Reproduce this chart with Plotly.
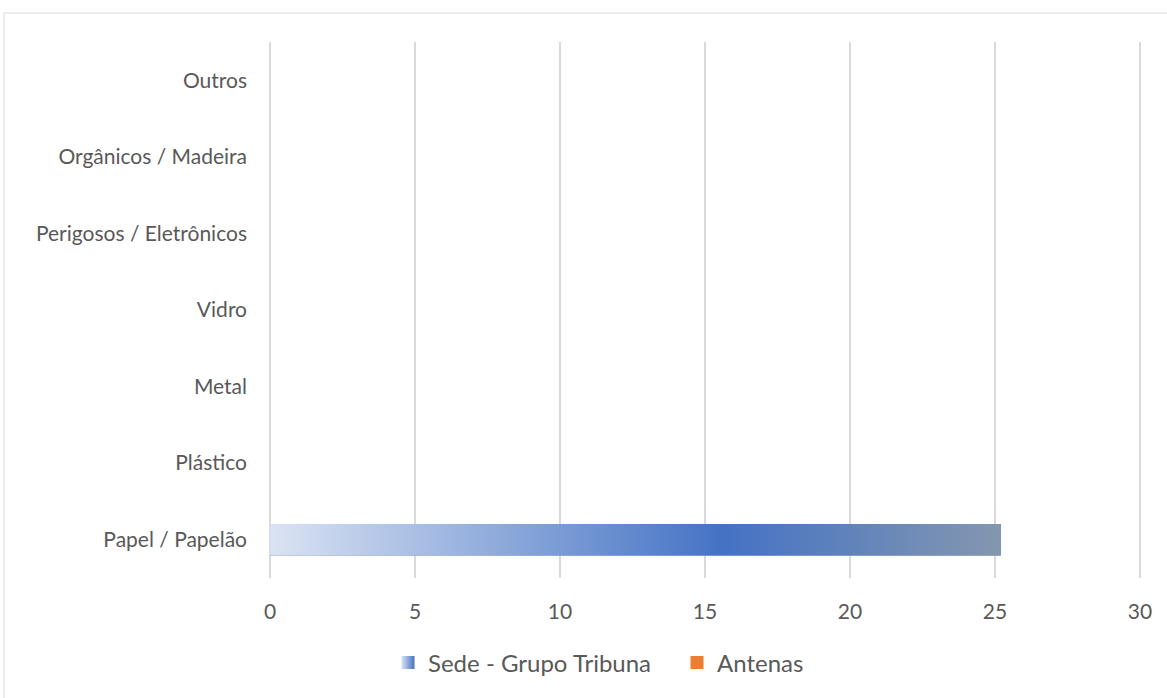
import plotly.graph_objects as go

# Waste categories (bottom to top) and quantities per site
categories = [
    "Papel / Papelão",
    "Plástico",
    "Metal",
    "Vidro",
    "Perigosos / Eletrônicos",
    "Orgânicos / Madeira",
    "Outros",
]
sede_values = [25.2, 0, 0, 0, 0, 0, 0]
antenas_values = [0, 0, 0, 0, 0, 0, 0]
x_ticks = [0, 5, 10, 15, 20, 25, 30]

series_names = ["Sede - Grupo Tribuna", "Antenas"]
positions = list(range(len(categories)))

BAR_WIDTH = 0.41
TEXT = "#595959"
GRID = "#d9d9d9"
FONT = "Lato"
TICK_SIZE = 21
LEGEND_SIZE = 24

# Horizontal gradient used for the "Sede" bars
sede_gradient = [[0.0, "#dae3f3"], [0.62, "#4472c4"], [1.0, "#8497b0"]]

fig = go.Figure()

# Base bars for both series
fig.add_trace(go.Bar(
    y=positions, x=sede_values, orientation="h", width=BAR_WIDTH,
    name=series_names[0], marker=dict(color="#4472c4", line=dict(width=0)),
    showlegend=False, legendgroup="sede", hoverinfo="skip",
))
fig.add_trace(go.Bar(
    y=positions, x=antenas_values, orientation="h", width=BAR_WIDTH,
    name=series_names[1], marker=dict(color="#ed7d31", line=dict(width=0)),
    showlegend=False, legendgroup="antenas", hoverinfo="skip",
))

# Gradient face drawn over each non-zero "Sede" bar
for pos, val in zip(positions, sede_values):
    if val <= 0:
        continue
    h = BAR_WIDTH / 2
    fig.add_trace(go.Scatter(
        x=[0, val, val, 0, 0],
        y=[pos - h, pos - h, pos + h, pos + h, pos - h],
        mode="lines", fill="toself", line=dict(width=0),
        fillgradient=dict(type="horizontal", colorscale=sede_gradient),
        name=series_names[0], legendgroup="sede", showlegend=False,
        hoverinfo="skip",
    ))

# Legend keys: small squares, the first one shaded like the bars
fig.add_trace(go.Scatter(
    x=[None], y=[None], mode="markers", name=series_names[0],
    marker=dict(symbol="square", size=13, color="#dae3f3",
                gradient=dict(type="horizontal", color="#4472c4"),
                line=dict(width=0)),
    legendgroup="sede", showlegend=True,
))
fig.add_trace(go.Scatter(
    x=[None], y=[None], mode="markers", name=series_names[1],
    marker=dict(symbol="square", size=13, color="#ed7d31", line=dict(width=0)),
    legendgroup="antenas", showlegend=True,
))

X_RANGE = [-0.07, 30.07]
L, R, T, B = 268, 25, 42, 120
W, H = 1167, 698
pw, ph = W - L - R, H - T - B

# Outer chart border
fig.add_shape(
    type="rect", xref="paper", yref="paper",
    x0=(4 - L) / pw, x1=(W + 5 - L) / pw,
    y0=-(B + 5) / ph, y1=(H - B - 13) / ph,
    line=dict(color=GRID, width=1), fillcolor="rgba(0,0,0,0)", layer="below",
)

fig.update_layout(
    width=W, height=H,
    margin=dict(l=L, r=R, t=T, b=B),
    paper_bgcolor="white", plot_bgcolor="white",
    barmode="overlay",
    font=dict(family=FONT, color=TEXT, size=TICK_SIZE),
    showlegend=True,
    legend=dict(
        orientation="h", x=(388 - L) / pw, xanchor="left",
        y=-(663 - (H - B)) / ph, yanchor="middle",
        font=dict(size=LEGEND_SIZE, color=TEXT, family=FONT),
        traceorder="normal", itemwidth=30,
        entrywidth=244, entrywidthmode="pixels",
    ),
    xaxis=dict(
        range=X_RANGE, tickvals=x_ticks, ticktext=[str(t) for t in x_ticks],
        showgrid=True, gridcolor=GRID, gridwidth=1.5,
        zeroline=False, showline=False, ticks="",
        tickfont=dict(size=TICK_SIZE, color=TEXT), ticklabelstandoff=19,
        fixedrange=True,
    ),
    yaxis=dict(
        range=[-0.5, len(categories) - 0.5],
        tickvals=positions, ticktext=categories,
        showgrid=False, zeroline=False, showline=False, ticks="",
        tickfont=dict(size=TICK_SIZE, color=TEXT), ticklabelstandoff=20,
        fixedrange=True,
    ),
)

fig.write_html("out.html")
